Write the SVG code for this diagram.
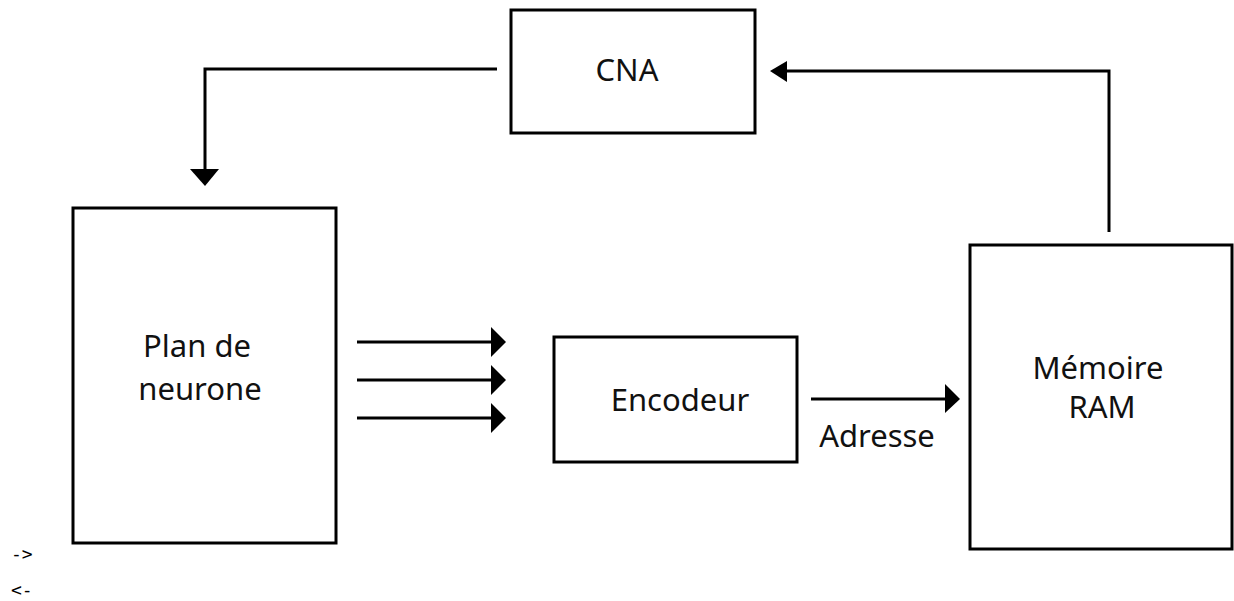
<svg xmlns="http://www.w3.org/2000/svg" width="1234" height="601" viewBox="0 0 1234 601">
<style>
.box{fill:#fff;stroke:#000;stroke-width:3}
.lbl{font-family:"Noto Sans","DejaVu Sans",sans-serif;font-size:31px;fill:#111;text-anchor:middle}
.ln{fill:none;stroke:#000;stroke-width:3}
.ah{fill:#000}
.mono{font-family:"DejaVu Sans Mono","Liberation Mono",monospace;font-size:18px;fill:#000}
</style>
<rect width="1234" height="601" fill="#fff"/>
<g id="connectors">
<polyline class="ln" points="497,69 205,69 205,172"/>
<polygon class="ah" points="190,169 219,169 205,186"/>
<polyline class="ln" points="1109,232 1109,71 785,71"/>
<polygon class="ah" points="787,61 787,82 770,71"/>
<line class="ln" x1="357" y1="342" x2="492" y2="342"/>
<polygon class="ah" points="491,327 491,357 506,342"/>
<line class="ln" x1="357" y1="380" x2="492" y2="380"/>
<polygon class="ah" points="491,365 491,395 506,380"/>
<line class="ln" x1="357" y1="418" x2="492" y2="418"/>
<polygon class="ah" points="491,403 491,433 506,418"/>
<line class="ln" x1="811" y1="399" x2="946" y2="399"/>
<polygon class="ah" points="945,384 945,413 960,399"/>
<text class="lbl" x="877" y="447">Adresse</text>
</g>
<g id="cna">
<rect class="box" x="511" y="10" width="244" height="123"/>
<text class="lbl" x="627" y="81">CNA</text>
</g>
<g id="plan">
<rect class="box" x="73" y="208" width="263" height="335"/>
<text class="lbl" x="197" y="357">Plan de</text>
<text class="lbl" x="200" y="400">neurone</text>
</g>
<g id="encodeur">
<rect class="box" x="554" y="337" width="243" height="125"/>
<text class="lbl" x="680" y="411">Encodeur</text>
</g>
<g id="memoire">
<rect class="box" x="970" y="245" width="262" height="304"/>
<text class="lbl" x="1098" y="379">Mémoire</text>
<text class="lbl" x="1102" y="418">RAM</text>
</g>
<text class="mono" x="11" y="560">-&gt;</text>
<text class="mono" x="11" y="596">&lt;-</text>
</svg>
